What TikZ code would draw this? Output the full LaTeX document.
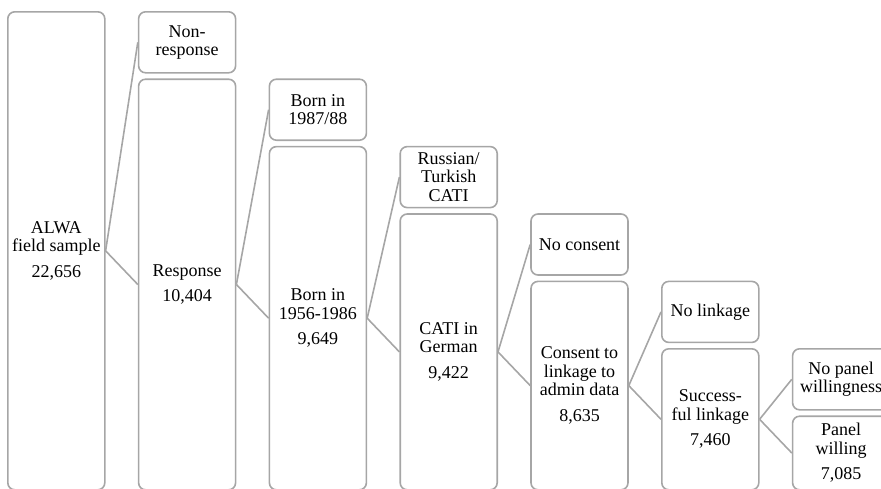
\documentclass[tikz,border=0pt]{standalone}
\usepackage{fontspec}
\setmainfont{Liberation Serif}
\usetikzlibrary{positioning}
\definecolor{boxgray}{RGB}{166,166,166}

\begin{document}
\begin{tikzpicture}
                [x=1pt, y=-1pt,
                box/.style={
                    draw=boxgray,
                    line width=1.6pt,
                    rounded corners=7pt,
                    fill=white,
                    align=center,
                    inner sep=2pt,
                    anchor=north west,
                    minimum width=97pt,
                    font=\fontsize{18}{18.5}\selectfont
                },
                big/.style={box, minimum height=#1},
                small/.style={box, minimum height=61pt},
                line/.style={
                    draw=boxgray, line width=1.6pt
                }
                ]
                \useasboundingbox (0,0) rectangle (881,488);

                % Column 0: field sample
                \node[big=478pt] (big0) at (7,11) {ALWA\\field sample\\[7pt]22,656};

                % Column 1
                \node[small] (small1) at (137.8,11) {Non-\\response};
                \node[big=410.6pt] (big1) at (137.8,78.4) {Response\\[7pt]10,404};

                % Column 2
                \node[small] (small2) at (268.6,78.4) {Born in\\1987/88};
                \node[big=343.2pt] (big2) at (268.6,145.8) {Born in\\1956-1986\\[7pt]9,649};

                % Column 3
                \node[small] (small3) at (399.4,145.8) {Russian/\\Turkish\\CATI};
                \node[big=275.8pt] (big3) at (399.4,213.2) {CATI in\\German\\[7pt]9,422};

                % Column 4
                \node[small] (small4) at (530.2,213.2) {No consent};
                \node[big=208.4pt] (big4) at (530.2,280.6) {Consent to\\linkage to\\admin data\\[7pt]8,635};

                % Column 5
                \node[small] (small5) at (661,280.6) {No linkage};
                \node[big=141pt] (big5) at (661,348) {Success-\\ful linkage\\[7pt]7,460};

                % Column 6
                \node[small] (small6) at (791.8,348) {No panel\\willingness};
                \node[big=73.6pt] (big6) at (791.8,415.4) {Panel\\willing\\[7pt]7,085};

                % Split connectors
                \foreach \i [evaluate=\i as \j using int(\i+1)] in {0,...,5}{
                    \path [line] (big\i.east) -- (small\j.west);
                    \path [line] (big\i.east) -- (big\j.west);
                }
\end{tikzpicture}
\end{document}
